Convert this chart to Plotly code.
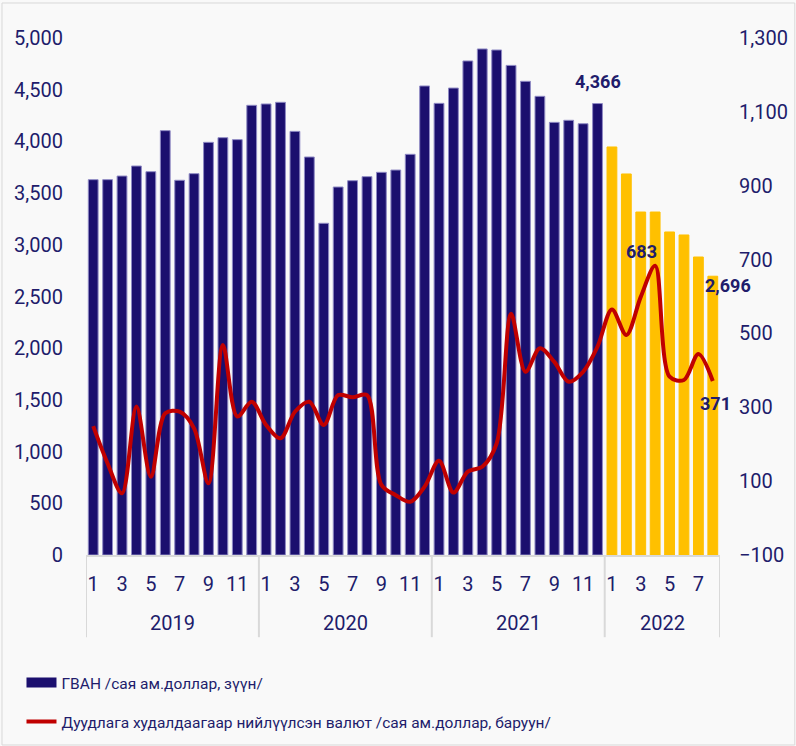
import plotly.graph_objects as go

# өгөгдөл
years = [2019] * 12 + [2020] * 12 + [2021] * 12 + [2022] * 8
months = list(range(1, 13)) * 3 + list(range(1, 9))

gvan = [3630, 3630, 3665, 3762, 3707, 4104, 3624, 3688, 3991, 4036, 4017, 4349,
        4362, 4378, 4097, 3849, 3208, 3559, 3620, 3659, 3701, 3723, 3875, 4536,
        4368, 4516, 4778, 4894, 4884, 4735, 4581, 4436, 4184, 4204, 4171, 4366,
        3946, 3685, 3317, 3317, 3124, 3095, 2882, 2696]

valyut = [249, 148, 67, 302, 112, 284, 288, 243, 94, 469, 275, 315,
          252, 216, 288, 315, 252, 333, 327, 333, 90, 62, 44, 85,
          155, 69, 126, 139, 202, 553, 396, 460, 423, 369, 396, 464,
          565, 496, 599, 683, 383, 374, 444, 371]

name_bar = 'ГВАН /сая ам.доллар, зүүн/'
name_line = 'Дуудлага худалдаагаар нийлүүлсэн валют /сая ам.доллар, баруун/'

NAVY = '#1B0F6E'
GOLD = '#FFC000'
RED = '#C00000'
TXT = '#211C6B'
GRID = '#D9D9D9'
FONT = 'Roboto'

x = list(range(len(gvan)))
bar_colors = [GOLD if y == 2022 else NAVY for y in years]
bar_lines = [GOLD if y == 2022 else '#8F8AC4' for y in years]

fig = go.Figure()
fig.add_trace(go.Bar(x=x, y=gvan, marker=dict(color=bar_colors,
                     line=dict(color=bar_lines, width=1)),
                     showlegend=False, hoverinfo='y'))
fig.add_trace(go.Scatter(x=x, y=valyut, yaxis='y2', mode='lines',
                         line=dict(color=RED, width=4, shape='spline', smoothing=0.9),
                         showlegend=False))
# legend-д зориулсан хоосон trace-ууд
fig.add_trace(go.Scatter(x=[None], y=[None], mode='lines', name=name_bar,
                         line=dict(color=NAVY, width=10), legend='legend'))
fig.add_trace(go.Scatter(x=[None], y=[None], mode='lines', name=name_line,
                         line=dict(color=RED, width=4), legend='legend2'))

# сарын шошго (сондгой сарууд)
tickvals = [i for i, m in enumerate(months) if m % 2 == 1]
ticktext = [str(months[i]) for i in tickvals]

# он, хуваах шугам
shapes = []
annotations = []
uniq_years = sorted(set(years))
for yr in uniq_years:
    idx = [i for i, y in enumerate(years) if y == yr]
    annotations.append(dict(x=(idx[0] + idx[-1]) / 2, y=-0.1315, xref='x', yref='paper',
                            yanchor='middle', text=str(yr), showarrow=False,
                            font=dict(family=FONT, size=20, color=TXT)))
    shapes.append(dict(type='line', xref='x', yref='paper', x0=idx[0] - 0.5, x1=idx[0] - 0.5,
                       y0=0, y1=-0.159, line=dict(color=GRID, width=2)))
shapes.append(dict(type='line', xref='x', yref='paper', x0=len(x) - 0.5, x1=len(x) - 0.5,
                   y0=0, y1=-0.159, line=dict(color=GRID, width=2)))
# хүрээ
shapes.append(dict(type='rect', xref='paper', yref='paper', x0=-0.1325, x1=1.118,
                   y0=-0.3675, y1=1.0677, line=dict(color=GRID, width=1), layer='below'))

lbl = dict(family=FONT, size=18, color=TXT, weight='bold')
i_max = 35
i_pk = valyut.index(max(valyut[36:]))
annotations += [
    dict(x=i_max, y=gvan[i_max], yref='y', text=f'{gvan[i_max]:,}', showarrow=False,
         yanchor='bottom', yshift=10, font=lbl),
    dict(x=x[-1], y=gvan[-1], yref='y', text=f'{gvan[-1]:,}', showarrow=False,
         xshift=15, yshift=-9, font=lbl),
    dict(x=i_pk, y=valyut[i_pk], yref='y2', text=f'{valyut[i_pk]:,}', showarrow=False,
         xshift=-14, yshift=14, font=lbl),
    dict(x=x[-1], y=valyut[-1], yref='y2', text=f'{valyut[-1]:,}', showarrow=False,
         xshift=3, yshift=-22, font=lbl),
]

tickfont = dict(family=FONT, size=20, color=TXT)
legfont = dict(family=FONT, size=15.5, color=TXT)
fig.update_layout(
    width=796, height=746,
    margin=dict(l=86, r=76, t=38, b=191),
    paper_bgcolor='#F9F9F9', plot_bgcolor='#F9F9F9',
    bargap=0.32,
    xaxis=dict(range=[-0.5, len(x) - 0.5], tickvals=tickvals, ticktext=ticktext,
               tickfont=tickfont, showgrid=False, zeroline=False, showline=True,
               linecolor=GRID, linewidth=2, ticks='', ticklabelstandoff=10,
               automargin=False),
    yaxis=dict(range=[0, 5000], dtick=500, tickformat=',', tickfont=tickfont,
               showgrid=False, zeroline=False, ticklabelstandoff=22, automargin=False),
    yaxis2=dict(range=[-100, 1300], tick0=-100, dtick=200, tickformat=',', tickfont=tickfont,
                overlaying='y', side='right', showgrid=False, zeroline=False,
                ticklabelstandoff=18, automargin=False),
    legend=dict(xref='container', yref='container', orientation='h', x=0.027, xanchor='left',
                y=0.0845, yanchor='middle', bgcolor='rgba(0,0,0,0)', font=legfont),
    legend2=dict(xref='container', yref='container', orientation='h', x=0.027, xanchor='left',
                 y=0.0322, yanchor='middle', bgcolor='rgba(0,0,0,0)', font=legfont),
    shapes=shapes, annotations=annotations,
)

fig.write_html('out.html', config={'displayModeBar': False},
               post_script="document.body.style.margin='0';")
